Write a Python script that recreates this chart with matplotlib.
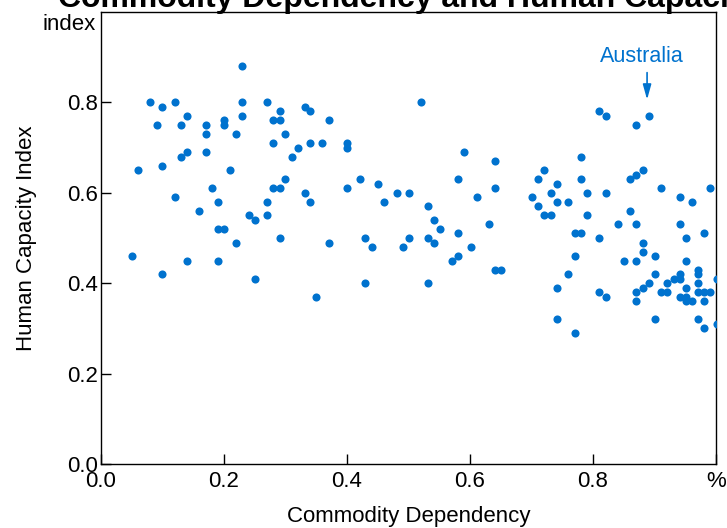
import matplotlib
matplotlib.use("Agg")
import matplotlib.pyplot as plt

plt.rcParams['font.family'] = ['Liberation Sans', 'DejaVu Sans']

# --- datos ---
commodity_dep = [
    0.230, 0.080, 0.100, 0.121, 0.140, 0.091, 0.130, 0.171, 0.171, 0.200,
    0.200, 0.230, 0.230, 0.220, 0.270, 0.291, 0.280, 0.291, 0.300, 0.280,
    0.320, 0.331, 0.340, 0.370, 0.340, 0.360, 0.400, 0.400, 0.311, 0.140,
    0.130, 0.171, 0.061, 0.100, 0.210, 0.300, 0.421, 0.180, 0.280, 0.291,
    0.400, 0.121, 0.190, 0.270, 0.331, 0.340, 0.160, 0.241, 0.250, 0.270,
    0.190, 0.200, 0.220, 0.291, 0.370, 0.050, 0.140, 0.190, 0.100, 0.250,
    0.350,
    0.520, 0.591, 0.641, 0.580, 0.641, 0.451, 0.461, 0.481, 0.501, 0.531,
    0.541, 0.551, 0.611, 0.631, 0.430, 0.441, 0.501, 0.491, 0.531, 0.541,
    0.580, 0.601, 0.571, 0.580, 0.641, 0.651, 0.430, 0.531,
    0.810, 0.821, 0.870, 0.891, 0.780, 0.720, 0.711, 0.741, 0.780, 0.731,
    0.791, 0.821, 0.701, 0.711, 0.741, 0.760, 0.720, 0.731, 0.791, 0.861,
    0.870, 0.881, 0.911, 0.941, 0.961, 0.991, 0.861, 0.841, 0.870, 0.941,
    0.770, 0.780, 0.810, 0.951, 0.981, 0.881, 0.881, 0.770, 0.851, 0.870,
    0.901, 0.951, 0.760, 0.901, 0.931, 0.941, 0.941, 0.971, 0.971, 1.001,
    0.921, 0.971, 0.891, 0.881, 0.870, 0.870, 0.810, 0.821, 0.741, 0.911,
    0.921, 0.941, 0.951, 0.951, 0.951, 0.961, 0.971, 0.981, 0.991, 0.981,
    0.741, 0.770, 0.901, 0.971, 0.981, 1.001,
]
human_cap = [
    0.880, 0.800, 0.790, 0.800, 0.770, 0.750, 0.750, 0.750, 0.730, 0.760,
    0.750, 0.800, 0.770, 0.730, 0.800, 0.780, 0.760, 0.760, 0.730, 0.710,
    0.700, 0.790, 0.780, 0.760, 0.710, 0.710, 0.710, 0.700, 0.680, 0.690,
    0.680, 0.690, 0.650, 0.660, 0.650, 0.630, 0.630, 0.610, 0.610, 0.610,
    0.610, 0.590, 0.580, 0.580, 0.600, 0.580, 0.560, 0.550, 0.540, 0.550,
    0.520, 0.520, 0.490, 0.500, 0.490, 0.460, 0.450, 0.450, 0.420, 0.410,
    0.370,
    0.800, 0.690, 0.670, 0.630, 0.610, 0.620, 0.580, 0.600, 0.600, 0.570,
    0.540, 0.520, 0.590, 0.530, 0.500, 0.480, 0.500, 0.480, 0.500, 0.490,
    0.510, 0.480, 0.450, 0.460, 0.430, 0.430, 0.400, 0.400,
    0.780, 0.770, 0.750, 0.770, 0.680, 0.650, 0.630, 0.620, 0.630, 0.600,
    0.600, 0.600, 0.590, 0.570, 0.580, 0.580, 0.550, 0.550, 0.550, 0.630,
    0.640, 0.650, 0.610, 0.590, 0.580, 0.610, 0.560, 0.530, 0.530, 0.530,
    0.510, 0.510, 0.500, 0.500, 0.510, 0.490, 0.470, 0.460, 0.450, 0.450,
    0.460, 0.450, 0.420, 0.420, 0.410, 0.420, 0.410, 0.430, 0.420, 0.410,
    0.400, 0.400, 0.400, 0.390, 0.380, 0.360, 0.380, 0.370, 0.390, 0.380,
    0.380, 0.370, 0.390, 0.370, 0.360, 0.360, 0.380, 0.380, 0.380, 0.360,
    0.320, 0.290, 0.320, 0.320, 0.300, 0.310,
]
highlight_name = "Australia"
highlight_x, highlight_y = 0.891, 0.770

x_ticks = [0.0, 0.2, 0.4, 0.6, 0.8, 1.0]
x_ticklabels = ["0.0", "0.2", "0.4", "0.6", "0.8", "%"]
y_ticks = [0.0, 0.2, 0.4, 0.6, 0.8]
y_ticklabels = ["0.0", "0.2", "0.4", "0.6", "0.8"]

blue = "#0072CE"

fig = plt.figure(figsize=(7.27, 5.28), dpi=100)
ax = fig.add_axes([0.1389, 0.1212, 0.8459, 0.8561])

ax.scatter(commodity_dep, human_cap, s=34, color=blue, linewidths=0, zorder=3)

# etiqueta y flecha
ax.annotate("", xy=(highlight_x - 0.003, highlight_y + 0.03),
            xytext=(highlight_x - 0.003, highlight_y + 0.102),
            arrowprops=dict(arrowstyle="-|>,head_length=0.9,head_width=0.25",
                            color=blue, lw=1.2))
ax.text(highlight_x - 0.012, highlight_y + 0.131, highlight_name, color=blue,
        fontsize=15.5, ha="center", va="center")

ax.set_xlim(0, 1)
ax.set_ylim(0, 1)
ax.set_xticks(x_ticks)
ax.set_xticklabels(x_ticklabels)
ax.set_yticks(y_ticks)
ax.set_yticklabels(y_ticklabels)
ax.tick_params(direction="in", length=7, width=1, labelsize=16, pad=2)
ax.tick_params(axis="x", pad=5)

for sp in ax.spines.values():
    sp.set_linewidth(1.0)
    sp.set_color("black")

ax.set_xlabel("Commodity Dependency", fontsize=16, labelpad=10)
ax.set_ylabel("Human Capacity Index", fontsize=16, labelpad=22)
ax.text(-0.008, 0.995, "index", transform=ax.transAxes, ha="right", va="top",
        fontsize=16)

fig.text(58 / 727, 1 - 7 / 528, "Commodity Dependency and Human Capacity",
         fontsize=23, fontweight="bold", ha="left", va="baseline")

fig.savefig("out.png", dpi=100)
